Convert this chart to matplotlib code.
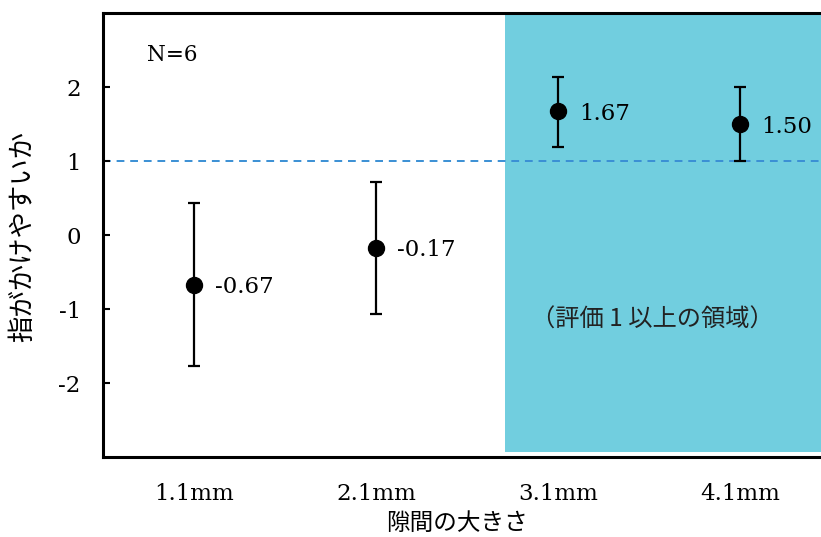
import matplotlib
matplotlib.use("Agg")
import matplotlib.pyplot as plt
from matplotlib.patches import Rectangle

# data
gaps = ['1.1mm', '2.1mm', '3.1mm', '4.1mm']
means = [-0.67, -0.17, 1.67, 1.50]
err_up = [1.10, 0.89, 0.46, 0.50]
err_down = [1.10, 0.90, 0.48, 0.50]
yticks = [-2, -1, 0, 1, 2]
threshold = 1
region_x0 = 1.71
region_y = (-2.93, 3.0)
n_label = 'N=6'

jp = ['Noto Sans CJK JP', 'DejaVu Sans']
plt.rcParams['font.family'] = ['DejaVu Serif', 'Noto Sans CJK JP']


def main():
    fig = plt.figure(figsize=(8.21, 5.37), dpi=100)
    ax = fig.add_axes([103 / 821, 80 / 537, 728 / 821, 444 / 537])

    x = list(range(len(gaps)))

    # shaded region (score >= 1)
    ax.add_patch(Rectangle((region_x0, region_y[0]), 3.6 - region_x0, region_y[1] - region_y[0],
                           facecolor='#71cedf', edgecolor='none', zorder=0, clip_on=False))
    ax.text(2.52, -1.15, '（評価 1 以上の領域）', ha='center', va='center',
            fontsize=17.5, family=jp, color='#222222')

    ax.axhline(threshold, color='#3a8fd4', linestyle=(0, (4, 3)), linewidth=1.4, zorder=1)

    ax.errorbar(x, means, yerr=[err_down, err_up], fmt='o', color='black', markersize=11.5,
                elinewidth=1.6, capsize=4.5, capthick=1.6, zorder=3)
    for xi, m in zip(x, means):
        ax.annotate(f'{m:.2f}', (xi, m), xytext=(15, -2), textcoords='offset points',
                    ha='left', va='center', fontsize=16.5)

    ax.text(0.06, 0.905, n_label, transform=ax.transAxes, fontsize=15.5, ha='left', va='center')

    ax.set_xlim(-0.5, 3.5)
    ax.set_ylim(-3, 3)
    ax.set_xticks(x)
    ax.set_xticklabels(gaps, fontsize=16.5)
    ax.set_yticks(yticks)
    ax.set_yticklabels([str(t) for t in yticks], fontsize=16.5)
    ax.tick_params(axis='x', length=0, pad=19)
    ax.tick_params(axis='y', direction='in', length=5, width=1.5, pad=16)

    for side in ['left', 'bottom', 'top', 'right']:
        ax.spines[side].set_linewidth(2.2)
        ax.spines[side].set_zorder(4)

    # axis titles placed by hand (the axes runs past the right edge of the figure)
    fig.text(457 / 821, 1 - 523 / 537, '隙間の大きさ', fontsize=17, family=jp,
             ha='center', va='center')
    fig.text(23 / 821, 1 - 236 / 537, '指がかけやすいか', fontsize=19, family=jp,
             ha='center', va='center', rotation=90)

    fig.savefig('out.png', dpi=100)


if __name__ == '__main__':
    main()
